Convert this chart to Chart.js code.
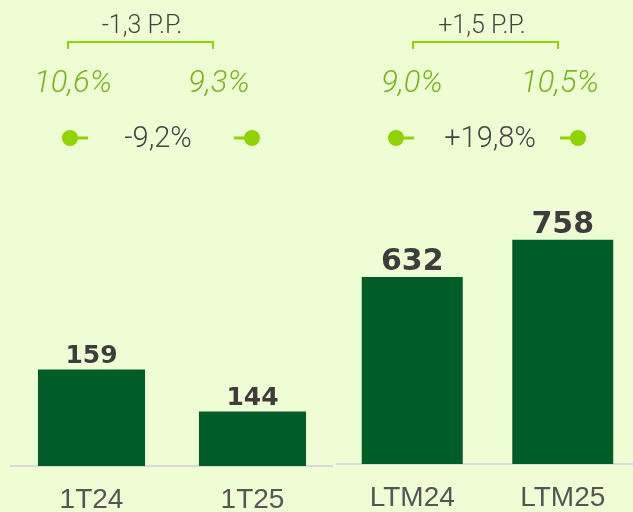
<!DOCTYPE html>
<html>
<head>
<meta charset="utf-8">
<script src="https://cdn.jsdelivr.net/npm/chart.js@4.4.1/dist/chart.umd.min.js"></script>
<style>
    html, body { margin: 0; padding: 0; background: #effdd5; overflow: hidden; }
    #wrap { position: relative; width: 633px; height: 512px; overflow: hidden; }
    #left-chart { position: absolute; left: 0; top: 0; }
    #right-chart { position: absolute; left: 333px; top: 0; }
</style>
</head>
<body>
<div id="wrap">
    <canvas id="left-chart" width="333" height="512" style="width:333px;height:512px"></canvas>
    <canvas id="right-chart" width="305" height="512" style="width:305px;height:512px"></canvas>
</div>
<script>
// dados
const quarterLabels = ['1T24', '1T25'];
const quarterValues = [159, 144];
const quarterMargins = ['10,6%', '9,3%'];
const quarterMarginDelta = '-1,3 P.P.';
const quarterGrowth = '-9,2%';

const ltmLabels = ['LTM24', 'LTM25'];
const ltmValues = [632, 758];
const ltmMargins = ['9,0%', '10,5%'];
const ltmMarginDelta = '+1,5 P.P.';
const ltmGrowth = '+19,8%';

const BAR_COLOR = '#005c29';
const LIME = '#8fd400';
const MARGIN_GREEN = '#79b51b';
const TEXT_DARK = '#444444';

// rótulos de valor acima das barras
const valueLabels = {
    id: 'valueLabels',
    afterDatasetsDraw(chart, args, opts) {
        const ctx = chart.ctx;
        const meta = chart.getDatasetMeta(0);
        const values = chart.data.datasets[0].data;
        ctx.save();
        ctx.font = opts.font;
        ctx.fillStyle = '#3d3d3d';
        ctx.textAlign = 'center';
        ctx.textBaseline = 'alphabetic';
        meta.data.forEach((bar, i) => {
            ctx.fillText(values[i], bar.x, bar.y - opts.gap);
        });
        ctx.restore();
    }
};

// cabeçalho: variação da margem, margens e crescimento
const header = {
    id: 'header',
    afterDraw(chart, args, o) {
        const ctx = chart.ctx;
        ctx.save();
        ctx.textAlign = 'center';
        ctx.textBaseline = 'alphabetic';

        ctx.font = '300 25px Roboto';
        ctx.fillStyle = TEXT_DARK;
        ctx.fillText(o.delta, o.deltaX, 33);

        ctx.strokeStyle = LIME;
        ctx.lineWidth = 2;
        ctx.beginPath();
        ctx.moveTo(o.bracket[0], 49);
        ctx.lineTo(o.bracket[0], 42);
        ctx.lineTo(o.bracket[1], 42);
        ctx.lineTo(o.bracket[1], 49);
        ctx.stroke();

        ctx.font = 'italic 300 31px Roboto';
        ctx.fillStyle = MARGIN_GREEN;
        o.margins.forEach((m, i) => ctx.fillText(m, o.marginX[i], 92));

        ctx.fillStyle = LIME;
        ctx.lineWidth = 3;
        o.dotX.forEach((x, i) => {
            const dir = i === 0 ? 1 : -1;
            ctx.beginPath();
            ctx.moveTo(x, 138);
            ctx.lineTo(x + dir * 18, 138);
            ctx.stroke();
            ctx.beginPath();
            ctx.arc(x, 138, 8, 0, Math.PI * 2);
            ctx.fill();
        });

        ctx.font = '300 29px Roboto';
        ctx.fillStyle = TEXT_DARK;
        ctx.fillText(o.growth, o.growthX, 147);
        ctx.restore();
    }
};

function buildChart(id, labels, values, cfg) {
    const ctx = document.getElementById(id).getContext('2d');
    return new Chart(ctx, {
        type: 'bar',
        data: {
            labels: labels,
            datasets: [{
                data: values,
                backgroundColor: BAR_COLOR,
                borderWidth: 0,
                barPercentage: cfg.barPercentage,
                categoryPercentage: 1
            }]
        },
        options: {
            responsive: false,
            animation: false,
            layout: { padding: cfg.padding },
            plugins: {
                legend: { display: false },
                tooltip: { enabled: false },
                valueLabels: cfg.valueLabels,
                header: cfg.header
            },
            scales: {
                x: {
                    grid: { display: false, drawTicks: false },
                    border: { display: true, color: '#d9d9d9', width: 2 },
                    ticks: {
                        color: '#555555',
                        padding: 17,
                        font: { family: '"Liberation Sans Narrow", "Liberation Sans"', size: 28 }
                    },
                    afterFit: function(scale) {
                        scale.height = cfg.axisHeight;
                    }
                },
                y: {
                    display: false,
                    min: cfg.yMin,
                    max: cfg.yMax
                }
            }
        },
        plugins: [valueLabels, header]
    });
}

buildChart('left-chart', quarterLabels, quarterValues, {
    barPercentage: 0.665,
    padding: { left: 11, right: 0, top: 186, bottom: 0 },
    axisHeight: 46,
    yMin: 124.5,
    yMax: 224.5,
    valueLabels: { font: 'bold 25px "DejaVu Sans"', gap: 6 },
    header: {
        delta: quarterMarginDelta, deltaX: 142,
        bracket: [68, 213],
        margins: quarterMargins, marginX: [73, 219],
        dotX: [70, 252],
        growth: quarterGrowth, growthX: 158
    }
});

buildChart('right-chart', ltmLabels, ltmValues, {
    barPercentage: 0.671,
    padding: { left: 4, right: 0, top: 168, bottom: 0 },
    axisHeight: 48,
    yMin: 0,
    yMax: 1000,
    valueLabels: { font: 'bold 30px "DejaVu Sans"', gap: 7 },
    header: {
        delta: ltmMarginDelta, deltaX: 149,
        bracket: [80, 225],
        margins: ltmMargins, marginX: [79, 227],
        dotX: [63, 245],
        growth: ltmGrowth, growthX: 157
    }
});
</script>
</body>
</html>
